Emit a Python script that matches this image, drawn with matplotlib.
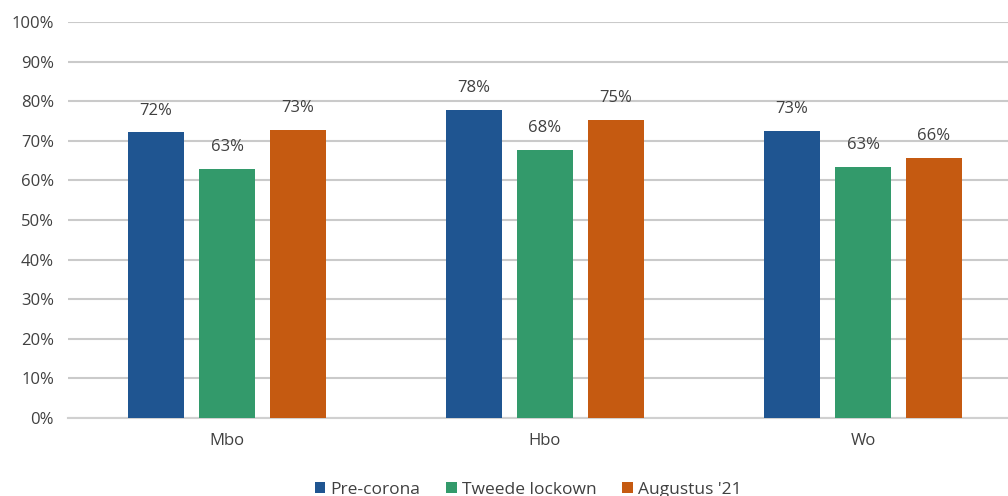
import matplotlib.pyplot as plt
import numpy as np

categories = ['Mbo', 'Hbo', 'Wo']
series = ['Pre-corona', 'Tweede lockown', "Augustus '21"]
pre_corona = [72.1, 77.7, 72.6]
tweede_lockdown = [62.9, 67.6, 63.3]
augustus_21 = [72.8, 75.3, 65.6]
colors = ['#1F5591', '#339A6B', '#C55A11']

plt.rcParams['font.family'] = ['Open Sans', 'DejaVu Sans']

fig = plt.figure(figsize=(10.08, 4.96), dpi=100)
ax = fig.add_axes([68 / 1008, 78 / 496, 954 / 1008, 396 / 496])

x = np.arange(len(categories))
width = 0.176
step = 0.223
data = [pre_corona, tweede_lockdown, augustus_21]
for i, (vals, name, c) in enumerate(zip(data, series, colors)):
    bars = ax.bar(x + (i - 1) * step, vals, width, color=c, label=name, zorder=3)
    for b, v in zip(bars, vals):
        ax.annotate('%d%%' % round(v), (b.get_x() + b.get_width() / 2, v),
                    xytext=(0, 10), textcoords='offset points', ha='center',
                    va='bottom', fontsize=12, color='#404040')

ax.set_xlim(-0.5, 2.5)
ax.set_ylim(0, 100)
ax.set_yticks(np.arange(0, 101, 10))
ax.set_yticklabels(['%d%%' % t for t in range(0, 101, 10)])
ax.set_xticks(x)
ax.set_xticklabels(categories)
ax.yaxis.grid(True, color='#CACACA', linewidth=1.5, zorder=0)
ax.tick_params(length=0, labelsize=12, labelcolor='#404040')
ax.tick_params(axis='x', pad=11)
ax.tick_params(axis='y', pad=10)
for s in ['top', 'right', 'left']:
    ax.spines[s].set_visible(False)
ax.spines['bottom'].set_color('#D0D0D0')
ax.spines['bottom'].set_linewidth(1.5)

fig.legend(loc='lower center', bbox_to_anchor=(0.524, -0.035), ncol=3, frameon=False,
           fontsize=12.5, handlelength=0.6, handleheight=0.6, handletextpad=0.3,
           columnspacing=1.5, labelcolor='#404040')

plt.savefig('out.png', dpi=100)
